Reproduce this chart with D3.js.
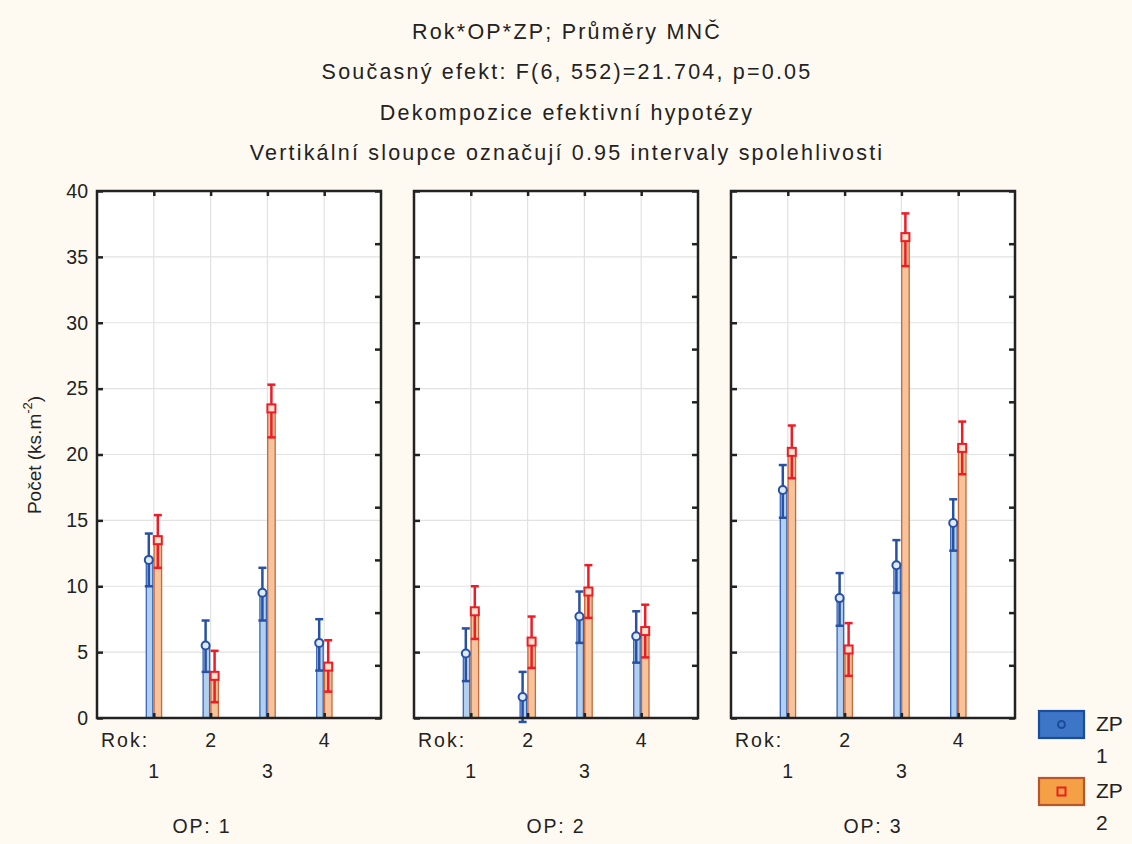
<!DOCTYPE html>
<html>
<head>
<meta charset="utf-8">
<script src="https://cdn.jsdelivr.net/npm/d3@7"></script>
<style>
  body { margin: 0; background: #fffaf1; }
  text { font-family: "Liberation Sans", Arial, sans-serif; fill: #222; }
</style>
</head>
<body>
<div id="chart"></div>
<script>
// data
const titleLines = [
  "Rok*OP*ZP; Průměry MNČ",
  "Současný efekt: F(6, 552)=21.704, p=0.05",
  "Dekompozice efektivní hypotézy",
  "Vertikální sloupce označují 0.95 intervaly spolehlivosti"
];
const years = [1, 2, 3, 4];
const opLabels = ["OP: 1", "OP: 2", "OP: 3"];
const yTicks = [0, 5, 10, 15, 20, 25, 30, 35, 40];
const rightTicks = [0, 4, 8, 12, 16, 20, 24, 28, 32, 36, 40];

// ZP 1 (blue), one row per OP, one value per Rok
const zp1Mean = [[12.0, 5.5, 9.5, 5.7], [4.9, 1.6, 7.7, 6.2], [17.3, 9.1, 11.6, 14.8]];
const zp1Low  = [[10.0, 3.5, 7.4, 3.6], [2.8, -0.3, 5.7, 4.2], [15.2, 7.0, 9.5, 12.7]];
const zp1High = [[14.0, 7.4, 11.4, 7.5], [6.8, 3.5, 9.6, 8.1], [19.2, 11.0, 13.5, 16.6]];
// ZP 2 (orange)
const zp2Mean = [[13.5, 3.2, 23.5, 3.9], [8.1, 5.8, 9.6, 6.6], [20.2, 5.2, 36.5, 20.5]];
const zp2Low  = [[11.4, 1.2, 21.3, 2.0], [6.0, 3.8, 7.6, 4.6], [18.2, 3.2, 34.3, 18.5]];
const zp2High = [[15.4, 5.1, 25.3, 5.9], [10.0, 7.7, 11.6, 8.6], [22.2, 7.2, 38.3, 22.5]];

const W = 1132, H = 844;
const plotTop = 191, plotBottom = 718;
const panelW = 284, gap = 33, firstLeft = 97;

const svg = d3.select("#chart").append("svg")
  .attr("width", W).attr("height", H);

svg.append("rect").attr("width", W).attr("height", H).attr("fill", "#fffaf1");

// titles
svg.selectAll("text.title")
  .data(titleLines)
  .join("text")
  .attr("class", "title")
  .attr("x", 567)
  .attr("y", (d, i) => 33 + i * 40.5)
  .attr("text-anchor", "middle")
  .attr("dominant-baseline", "middle")
  .style("font-size", "21.5px")
  .style("letter-spacing", "2.2px")
  .text(d => d);

const y = d3.scaleLinear().domain([0, 40]).range([plotBottom, plotTop]);

const blueStroke = "#2851a3", redStroke = "#ee1c25";

opLabels.forEach(function(op, p) {
  const left = firstLeft + p * (panelW + gap);
  const x = d3.scaleLinear().domain([0, 5]).range([left, left + panelW]);
  const g = svg.append("g");

  // plot area
  g.append("rect")
    .attr("x", left).attr("y", plotTop)
    .attr("width", panelW).attr("height", plotBottom - plotTop)
    .attr("fill", "#fff");

  // grid
  g.append("g").selectAll("line")
    .data(yTicks.slice(1, -1))
    .join("line")
    .attr("x1", left).attr("x2", left + panelW)
    .attr("y1", d => y(d)).attr("y2", d => y(d))
    .attr("stroke", "#e2e2e2").attr("stroke-width", 1.2);
  g.append("g").selectAll("line")
    .data(years)
    .join("line")
    .attr("x1", d => x(d)).attr("x2", d => x(d))
    .attr("y1", plotTop).attr("y2", plotBottom)
    .attr("stroke", "#e2e2e2").attr("stroke-width", 1.2);

  // bars
  years.forEach(function(yr, i) {
    const c = x(yr);
    g.append("rect")
      .attr("x", c - 7.5).attr("y", y(zp1Mean[p][i]))
      .attr("width", 6.5).attr("height", Math.max(0, y(0) - y(zp1Mean[p][i])))
      .attr("fill", "#b3cfee").attr("stroke", "#3566b8").attr("stroke-width", 1.3);
    g.append("rect")
      .attr("x", c + 0.3).attr("y", y(zp2Mean[p][i]))
      .attr("width", 7.5).attr("height", Math.max(0, y(0) - y(zp2Mean[p][i])))
      .attr("fill", "#f6c39b").attr("stroke", "#c8693a").attr("stroke-width", 1.3);
  });

  // error bars + markers
  function errors(mean, low, high, dx, color, shape) {
    years.forEach(function(yr, i) {
      const cx = x(yr) + dx;
      const e = g.append("g").attr("stroke", color).attr("stroke-width", 2.5).attr("fill", "none");
      e.append("line").attr("x1", cx).attr("x2", cx).attr("y1", y(low[p][i])).attr("y2", y(high[p][i]));
      e.append("line").attr("x1", cx - 4).attr("x2", cx + 4).attr("y1", y(low[p][i])).attr("y2", y(low[p][i]));
      e.append("line").attr("x1", cx - 4).attr("x2", cx + 4).attr("y1", y(high[p][i])).attr("y2", y(high[p][i]));
      if (shape == "circle") {
        e.append("circle").attr("cx", cx).attr("cy", y(mean[p][i])).attr("r", 4)
          .attr("fill", "#dfeaf7").attr("stroke-width", 2);
      } else {
        e.append("rect").attr("x", cx - 4).attr("y", y(mean[p][i]) - 4).attr("width", 8).attr("height", 8)
          .attr("fill", "#fbe2cf").attr("stroke-width", 2);
      }
    });
  }
  errors(zp1Mean, zp1Low, zp1High, -5, blueStroke, "circle");
  errors(zp2Mean, zp2Low, zp2High, 4, redStroke, "square");

  // axes (ticks inward)
  const axLeft = g.append("g")
    .attr("transform", `translate(${left},0)`)
    .call(d3.axisLeft(y).tickValues(yTicks).tickSize(-6).tickPadding(9)
      .tickFormat(p == 0 ? d3.format("d") : ""));
  const axRight = g.append("g")
    .attr("transform", `translate(${left + panelW},0)`)
    .call(d3.axisRight(y).tickValues(rightTicks).tickSize(-6).tickFormat(""));
  const axBottom = g.append("g")
    .attr("transform", `translate(0,${plotBottom})`)
    .call(d3.axisBottom(x).tickValues(years).tickSize(-5).tickFormat(""));
  const axTop = g.append("g")
    .attr("transform", `translate(0,${plotTop})`)
    .call(d3.axisTop(x).tickValues(years).tickSize(-5).tickFormat(""));

  [axLeft, axRight, axBottom, axTop].forEach(function(a) {
    a.select(".domain").remove();
    a.selectAll(".tick line").attr("stroke", "#222").attr("stroke-width", 2.5);
    a.selectAll(".tick text")
      .style("font-size", "19.5px")
      .style("font-family", "'Liberation Sans', Arial, sans-serif")
      .attr("fill", "#222");
  });

  // frame
  g.append("rect")
    .attr("x", left).attr("y", plotTop)
    .attr("width", panelW).attr("height", plotBottom - plotTop)
    .attr("fill", "none").attr("stroke", "#222").attr("stroke-width", 2.5);

  // x labels: two staggered rows
  g.append("text")
    .attr("x", left + 4).attr("y", 742)
    .attr("dominant-baseline", "middle")
    .style("font-size", "19.5px")
    .style("letter-spacing", "2px")
    .text("Rok:");
  g.selectAll("text.yr")
    .data(years)
    .join("text")
    .attr("class", "yr")
    .attr("x", d => x(d))
    .attr("y", d => d % 2 == 0 ? 742 : 773)
    .attr("text-anchor", "middle")
    .attr("dominant-baseline", "middle")
    .style("font-size", "19.5px")
    .text(d => d);

  g.append("text")
    .attr("x", p == 0 ? left + panelW / 2 - 37 : left + panelW / 2)
    .attr("y", 828)
    .attr("text-anchor", "middle")
    .attr("dominant-baseline", "middle")
    .style("font-size", "19.5px")
    .style("letter-spacing", "1.8px")
    .text(op);
});

// y axis title
const yt = svg.append("text")
  .attr("transform", "translate(36,455) rotate(-90)")
  .attr("text-anchor", "middle")
  .attr("dominant-baseline", "middle")
  .style("font-size", "19px");
yt.append("tspan").text("Počet (ks.m");
yt.append("tspan").attr("dy", -7).style("font-size", "13px").text("-2");
yt.append("tspan").attr("dy", 7).text(")");

// legend
const legend = svg.append("g");
legend.append("rect").attr("x", 1039).attr("y", 711).attr("width", 45).attr("height", 27)
  .attr("fill", "#3d76c6").attr("stroke", "#1d4b9c").attr("stroke-width", 2.2);
legend.append("circle").attr("cx", 1061.5).attr("cy", 724.5).attr("r", 3.5)
  .attr("fill", "none").attr("stroke", "#1d4b9c").attr("stroke-width", 2);
legend.append("rect").attr("x", 1039).attr("y", 778).attr("width", 45).attr("height", 27)
  .attr("fill", "#f4a047").attr("stroke", "#b9542b").attr("stroke-width", 2.2);
legend.append("rect").attr("x", 1057.5).attr("y", 787.5).attr("width", 8).attr("height", 8)
  .attr("fill", "none").attr("stroke", "#e82020").attr("stroke-width", 2);
[["ZP", 725], ["1", 757], ["ZP", 792], ["2", 824]].forEach(function(t) {
  legend.append("text")
    .attr("x", 1096).attr("y", t[1])
    .attr("dominant-baseline", "middle")
    .style("font-size", "21px")
    .text(t[0]);
});
</script>
</body>
</html>
